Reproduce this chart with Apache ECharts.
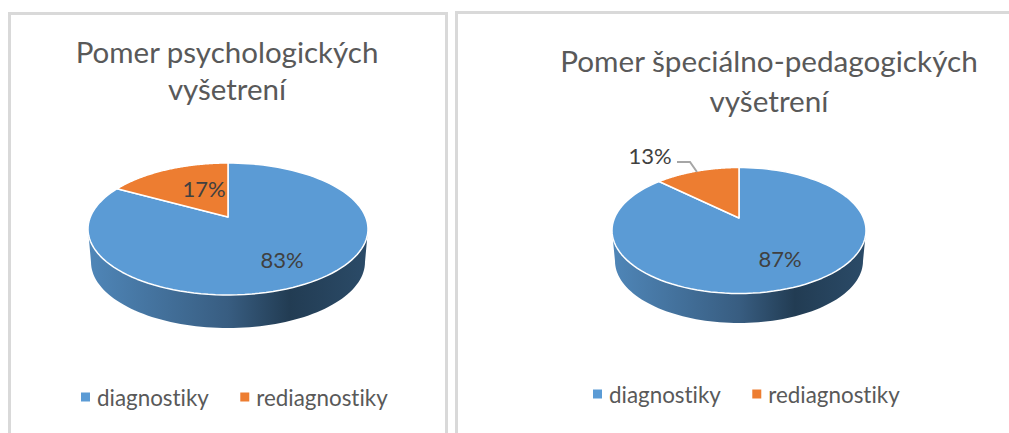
<!DOCTYPE html>
<html>
<head>
<meta charset="utf-8">
<style>
html, body { margin: 0; padding: 0; background: #fff; overflow: hidden; }
.panel { position: absolute; box-sizing: border-box; border: 3px solid #d9d9d9; border-bottom: 0; }
#p1 { left: 8px; top: 12px; width: 440px; height: 421px; }
#p2 { left: 455px; top: 11px; width: 560px; height: 422px; border-right: 0; }
#main { position: absolute; left: 0; top: 0; width: 1009px; height: 433px; }
#main text { font-variant-ligatures: none; }
</style>
<script src="https://cdn.jsdelivr.net/npm/echarts@6/dist/echarts.min.js"></script>
</head>
<body>
<div class="panel" id="p1"></div>
<div class="panel" id="p2"></div>
<div id="main"></div>
<script>
var categories = ['diagnostiky', 'rediagnostiky'];
var psychValues = [83, 17];
var specialValues = [87, 13];
var colors = ['#5b9bd5', '#ed7d31'];
var fontName = 'Lato';

// rozmery kolacov a popisky
var panels = [{
	title: 'Pomer psychologických\nvyšetrení',
	titleX: 227, titleY: 33, titleSize: 29.5, titleLine: 37,
	legendX: 81, legendY: 386,
	values: psychValues,
	cx: 228, cy: 229, rx: 140, ry: 66, apex: 12,
	cy2: 262, rx2: 137, ry2: 66,
	labels: [[282, 259], [204, 188]]
}, {
	title: 'Pomer špeciálno-pedagogických\nvyšetrení',
	titleX: 769, titleY: 40, titleSize: 29.7, titleLine: 40,
	legendX: 593, legendY: 383,
	values: specialValues,
	cx: 739, cy: 230.5, rx: 127, ry: 63, apex: 12.5,
	cy2: 261, rx2: 124, ry2: 62,
	labels: [[780, 258], [650, 155]],
	leader: [[677, 162], [690, 162], [697, 172]]
}];

// bod na okraji kolaca, kruh v perspektive (stred je posunuty hore)
function rimPoint(p, t) {
	var k = p.apex / p.ry;
	var w = 1 + k * Math.cos(t);
	return [
		p.cx + p.rx * Math.sqrt(1 - k * k) * Math.sin(t) / w,
		p.cy - p.ry * (Math.cos(t) + k) / w
	];
}

function sideWall(p) {
	var pts = [[p.cx - p.rx, p.cy]];
	for (var i = 0; i <= 80; i++) {
		var a = Math.PI - Math.PI * i / 80;
		pts.push([p.cx + p.rx2 * Math.cos(a), p.cy2 + p.ry2 * Math.sin(a)]);
	}
	pts.push([p.cx + p.rx, p.cy]);
	return {
		type: 'polygon',
		shape: { points: pts },
		style: {
			fill: new echarts.graphic.LinearGradient(0, 0, 1, 0, [
				{ offset: 0, color: '#4f86b8' },
				{ offset: 0.5, color: '#385d81' },
				{ offset: 0.72, color: '#223c53' },
				{ offset: 1, color: '#2b4b68' }
			])
		}
	};
}

function makeSeries(p, idx) {
	var total = p.values.reduce(function(a, b) { return a + b; }, 0);
	var before = 0;
	for (var i = 0; i < idx; i++) before += p.values[i];
	return {
		type: 'custom',
		name: categories[idx],
		coordinateSystem: 'none',
		silent: true,
		animation: false,
		itemStyle: { color: colors[idx] },
		z: idx === 0 ? 2 : 3,
		data: [[p.values[idx]]],
		renderItem: function(params, api) {
			var val = api.value(0);
			var start = before / total * 2 * Math.PI;
			var end = (before + val) / total * 2 * Math.PI;
			var pts = [[p.cx, p.cy - p.apex]];
			var steps = 120;
			for (var s = 0; s <= steps; s++) {
				pts.push(rimPoint(p, start + (end - start) * s / steps));
			}
			var kids = [];
			if (idx === 0) kids.push(sideWall(p));
			kids.push({
				type: 'polygon',
				shape: { points: pts },
				style: { fill: colors[idx], stroke: '#fff', lineWidth: 1.5, lineJoin: 'round' }
			});
			if (p.leader && idx === 1) {
				kids.push({
					type: 'polyline',
					shape: { points: p.leader },
					style: { fill: null, stroke: '#a6a6a6', lineWidth: 2 }
				});
			}
			kids.push({
				type: 'text',
				x: p.labels[idx][0],
				y: p.labels[idx][1],
				style: {
					text: val + '%',
					fill: '#404040',
					font: '22px ' + fontName,
					align: 'center',
					verticalAlign: 'middle'
				}
			});
			return { type: 'group', children: kids };
		}
	};
}

var titles = [], legends = [], seriesList = [];
panels.forEach(function(p) {
	titles.push({
		text: p.title,
		left: p.titleX,
		top: p.titleY,
		textAlign: 'center',
		padding: 0,
		textStyle: {
			color: '#595959',
			fontFamily: fontName,
			fontWeight: 'normal',
			fontSize: p.titleSize,
			lineHeight: p.titleLine
		}
	});
	legends.push({
		data: categories,
		left: p.legendX,
		top: p.legendY,
		padding: 0,
		icon: 'rect',
		itemWidth: 9,
		itemHeight: 9,
		itemGap: 31,
		selectedMode: false,
		textStyle: { color: '#595959', fontFamily: fontName, fontSize: 22.4, padding: [0, 0, 0, 2] }
	});
	categories.forEach(function(c, i) {
		seriesList.push(makeSeries(p, i));
	});
});

var myChart = echarts.init(document.getElementById('main'), null, { renderer: 'svg' });
myChart.setOption({
	backgroundColor: 'transparent',
	animation: false,
	title: titles,
	legend: legends,
	series: seriesList
});
</script>
</body>
</html>
